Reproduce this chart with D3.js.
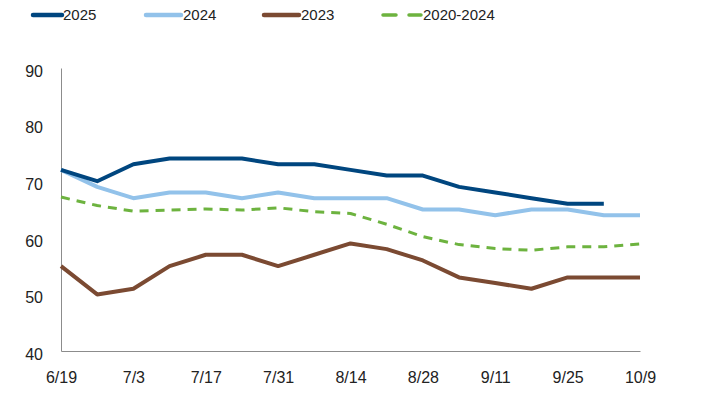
<!DOCTYPE html>
<html lang="en">
<head>
    <meta charset="UTF-8">
    <title>Weekly Index</title>
    <script src="https://d3js.org/d3.v7.min.js"></script>
    <style>
        body { margin: 0; background: #fff; }
        svg text { font-family: "Liberation Sans", Arial, sans-serif; fill: #222; }
        .tick text { font-size: 16px; }
        .legend text { font-size: 15px; }
    </style>
</head>
<body>
    <div id="chart"></div>
    <script>
        // Weeks shown on the x axis
        const weeks = ["6/19", "6/26", "7/3", "7/10", "7/17", "7/24", "7/31", "8/7", "8/14",
                       "8/21", "8/28", "9/4", "9/11", "9/18", "9/25", "10/2", "10/9"];
        const tickLabels = ["6/19", "7/3", "7/17", "7/31", "8/14", "8/28", "9/11", "9/25", "10/9"];
        const yTicks = [40, 50, 60, 70, 80, 90];

        // Series values (2025 ends at 10/2)
        const s2025 = [72, 70, 73, 74, 74, 74, 73, 73, 72, 71, 71, 69, 68, 67, 66, 66];
        const s2024 = [72, 69, 67, 68, 68, 67, 68, 67, 67, 67, 65, 65, 64, 65, 65, 64, 64];
        const s2023 = [55, 50, 51, 55, 57, 57, 55, 57, 59, 58, 56, 53, 52, 51, 53, 53, 53];
        const sAvg = [67.2, 65.7, 64.7, 64.9, 65.1, 64.9, 65.3, 64.6, 64.3, 62.4, 60.2, 58.8, 58.1, 57.8, 58.4, 58.4, 58.9];

        const series = [
            { name: "2025", values: s2025, color: "#00467f", width: 4, dash: null },
            { name: "2024", values: s2024, color: "#92c2ea", width: 4, dash: null },
            { name: "2023", values: s2023, color: "#7b4a32", width: 4, dash: null },
            { name: "2020-2024", values: sAvg, color: "#6db33f", width: 3, dash: "9,7" }
        ];

        const width = 702, height = 408;
        const margin = { top: 68, right: 62, bottom: 57, left: 61 };

        const svg = d3.select("#chart").append("svg")
            .attr("width", width)
            .attr("height", height);

        const x = d3.scalePoint()
            .domain(weeks)
            .range([margin.left, width - margin.right]);

        const y = d3.scaleLinear()
            .domain([40, 90])
            .range([height - margin.bottom, margin.top]);

        // x axis
        const xAxis = svg.append("g")
            .attr("transform", `translate(0,${height - margin.bottom})`)
            .call(d3.axisBottom(x).tickValues(tickLabels).tickSize(0).tickPadding(21));
        xAxis.select(".domain").attr("stroke", "#8c8c8c");

        // y axis
        const yAxis = svg.append("g")
            .attr("transform", `translate(${margin.left},0)`)
            .call(d3.axisLeft(y).tickValues(yTicks).tickSize(0).tickPadding(18));
        yAxis.select(".domain").attr("stroke", "#8c8c8c");
        yAxis.selectAll(".tick text").attr("dy", "0.52em");

        const line = d3.line()
            .x((d, i) => x(weeks[i]))
            .y(d => y(d));

        // draw back to front: average, 2023, 2024, 2025
        series.slice().reverse().forEach(s => {
            svg.append("path")
                .datum(s.values)
                .attr("fill", "none")
                .attr("stroke", s.color)
                .attr("stroke-width", s.width)
                .attr("stroke-dasharray", s.dash)
                .attr("stroke-linejoin", "round")
                .attr("d", line);
        });

        // legend
        const legendX = [32, 145, 263, 382];
        const legend = svg.append("g").attr("class", "legend");
        series.forEach((s, i) => {
            const g = legend.append("g").attr("transform", `translate(${legendX[i]},15)`);
            if (s.dash) {
                g.append("line").attr("x1", 1).attr("x2", 39).attr("y1", 0).attr("y2", 0)
                    .attr("stroke", s.color).attr("stroke-width", 3.5)
                    .attr("stroke-dasharray", "13,13").attr("stroke-linecap", "round");
            } else {
                g.append("line").attr("x1", 1).attr("x2", 30 + (i === 0 ? 0 : 6)).attr("y1", 0).attr("y2", 0)
                    .attr("stroke", s.color).attr("stroke-width", 4.5).attr("stroke-linecap", "round");
            }
            g.append("text")
                .attr("x", s.dash ? 41 : (i === 0 ? 31 : 38))
                .attr("y", 0)
                .attr("dy", "0.35em")
                .text(s.name);
        });
    </script>
</body>
</html>
